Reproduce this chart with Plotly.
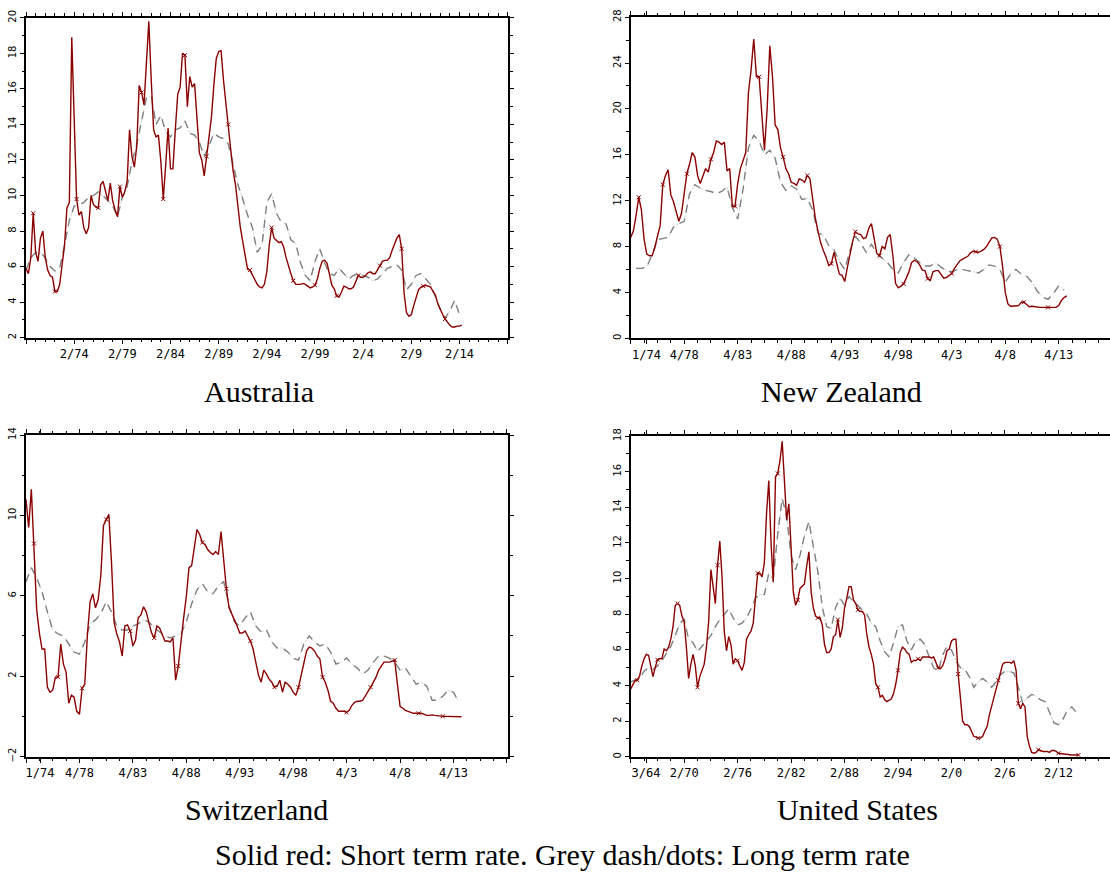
import numpy as np
import plotly.graph_objects as go

# ---------------- DATA ----------------
# Australia (quarterly short rate, semiannual long rate), time in decimal years
au_short_start = 1969.083
au_short = [5.9, 5.6, 6.5, 9.0, 6.8, 6.3, 7.6, 8.0, 6.5, 5.8,
            5.5, 5.4, 4.6, 4.6, 5.0, 6.0, 7.2, 9.3, 9.6, 18.9,
            13.9, 9.8, 8.9, 9.1, 8.2, 7.85, 8.2, 10.0, 9.5, 9.35,
            9.3, 10.6, 10.8, 10.2, 9.7, 10.7, 9.7, 9.2, 8.8, 10.5,
            9.9, 10.2, 10.8, 13.7, 12.2, 11.6, 12.8, 16.2, 15.8, 15.1,
            17.3, 19.8, 16.5, 13.7, 13.3, 13.4, 11.9, 9.8, 11.7, 13.8,
            11.5, 11.5, 13.7, 15.7, 16.1, 18.0, 17.9, 15.0, 16.7, 16.1,
            16.3, 14.6, 12.4, 12.0, 11.1, 12.2, 13.2, 14.4, 16.2, 17.7,
            18.1, 18.15, 16.5, 15.1, 14.0, 12.6, 11.4, 10.6, 9.4, 8.2,
            7.4, 6.5, 5.85, 5.8, 5.5, 5.2, 5.0, 4.85, 4.8, 5.0,
            5.7, 7.2, 8.2, 7.6, 7.45, 7.35, 7.4, 7.1, 6.5, 6.0,
            5.6, 5.2, 5.0, 5.0, 5.0, 5.05, 5.0, 4.9, 4.8, 4.85,
            4.95, 5.3, 5.9, 6.3, 6.35, 6.2, 5.6, 4.95, 4.75, 4.35,
            4.3, 4.55, 4.9, 4.85, 4.75, 4.75, 4.85, 5.2, 5.5, 5.4,
            5.4, 5.5, 5.65, 5.7, 5.6, 5.6, 5.8, 6.05, 6.3, 6.35,
            6.35, 6.5, 6.9, 7.3, 7.6, 7.8, 7.0, 4.5, 3.4, 3.2,
            3.3, 3.8, 4.25, 4.7, 4.85, 4.9, 4.95, 4.9, 4.85, 4.6,
            4.4, 3.9, 3.55, 3.3, 3.05, 2.85, 2.7, 2.6, 2.6, 2.65,
            2.65, 2.7]
au_long_start = 1969.083
au_long = [5.8, 6.5, 6.8, 6.8, 6.5, 6.0, 5.75, 5.9, 7.2, 8.6,
           9.4, 9.5, 9.6, 9.9, 10.0, 10.2, 10.0, 9.7, 9.4, 8.8,
           9.9, 10.5, 11.9, 12.9, 14.2, 15.5, 15.6, 14.0, 14.5, 13.6,
           13.3, 13.7, 13.8, 14.2, 13.5, 13.4, 13.0, 12.2, 12.8, 13.5,
           13.3, 13.2, 12.9, 11.8, 10.6, 9.8, 8.9, 8.2, 6.8, 7.2,
           9.6, 10.1, 9.0, 8.5, 8.4, 7.5, 7.3, 6.2, 5.5, 5.2,
           6.3, 7.0, 6.2, 5.6, 5.5, 5.9, 5.6, 5.3, 5.5, 5.6,
           5.5, 5.4, 5.2, 5.3, 5.6, 5.9, 6.0, 6.1, 5.8, 4.7,
           5.0, 5.5, 5.6, 5.3, 5.0, 4.3, 3.6, 3.1, 3.5, 4.1,
           3.3]
au_tickvals = [1969.083, 1974.083, 1979.083, 1984.083, 1989.083, 1994.083,
               1999.083, 2004.083, 2009.083, 2014.083, 2019.083]
au_ticktext = ["", "2/74", "2/79", "2/84", "2/89", "2/94", "2/99", "2/4", "2/9", "2/14", ""]

# New Zealand
nz_short_start = 1973.25
nz_short = [8.8, 9.35, 10.7, 12.3, 11.2, 8.65, 7.35, 7.2, 7.2, 7.9,
            8.9, 9.8, 13.4, 14.2, 14.7, 12.5, 11.9, 11.1, 10.2, 10.9,
            12.8, 14.35, 15.2, 16.2, 15.8, 14.2, 13.5, 14.1, 14.8, 14.5,
            15.6, 16.2, 17.2, 17.1, 16.9, 17.1, 14.6, 14.8, 11.5, 11.5,
            13.5, 14.8, 15.6, 16.2, 21.4, 23.4, 26.1, 22.8, 22.8, 19.4,
            16.4, 20.0, 25.5, 22.8, 18.6, 18.2, 16.6, 15.8, 14.8, 14.35,
            13.6, 13.5, 13.35, 13.9, 13.8, 13.6, 14.2, 13.9, 12.2, 10.5,
            9.35, 8.35, 7.65, 7.1, 6.35, 6.5, 7.5, 6.6, 5.6, 5.5,
            4.95, 6.2, 7.4, 8.5, 9.3, 9.1, 9.05, 8.7, 8.8, 9.6,
            10.0, 8.5, 7.4, 7.2, 8.0, 7.8, 8.8, 9.05, 7.2, 4.8,
            4.4, 4.55, 4.75, 5.25, 5.8, 6.6, 6.8, 6.7, 6.4, 5.95,
            5.9, 5.2, 5.05, 5.8, 5.9, 5.9, 5.6, 5.25, 5.3, 5.45,
            5.65, 6.1, 6.45, 6.75, 6.9, 7.0, 7.15, 7.45, 7.6, 7.55,
            7.5, 7.6, 7.75, 8.0, 8.4, 8.75, 8.8, 8.65, 8.0, 6.3,
            4.0, 3.0, 2.8, 2.8, 2.8, 2.85, 3.15, 3.15, 2.95, 2.75,
            2.8, 2.75, 2.7, 2.7, 2.7, 2.7, 2.7, 2.7, 2.7, 2.7,
            2.85, 3.3, 3.55, 3.7]
nz_long_start = 1973.75
nz_long = [6.1, 6.1, 6.2, 7.3, 8.6, 8.7, 8.8, 9.7, 10.0, 10.2,
           12.6, 13.4, 13.1, 12.9, 12.8, 12.6, 12.8, 13.2, 11.4, 10.4,
           13.0, 16.6, 17.7, 17.2, 16.0, 16.4, 15.7, 13.6, 12.9, 13.3,
           13.0, 12.1, 12.2, 11.2, 9.2, 9.0, 8.1, 7.7, 6.7, 6.0,
           7.7, 8.9, 8.3, 7.5, 8.2, 7.4, 7.0, 6.6, 6.0, 5.7,
           6.6, 7.3, 7.0, 6.6, 6.3, 6.3, 6.6, 6.2, 5.9, 5.8,
           6.0, 6.0, 5.9, 5.8, 5.7, 6.0, 6.4, 6.3, 6.0, 4.9,
           5.6, 6.0, 5.6, 5.4, 4.9, 4.1, 3.6, 3.4, 3.9, 4.6,
           4.2]
nz_tickvals = [1973.25, 1974.73, 1978.25, 1983.25, 1988.25, 1993.25,
               1998.25, 2003.25, 2008.25, 2013.25]
nz_ticktext = ["", "1/74", "4/78", "4/83", "4/88", "4/93", "4/98", "4/3", "4/8", "4/13"]

# Switzerland
ch_short_start = 1973.25
ch_short = [10.8, 9.4, 11.3, 8.6, 5.3, 4.15, 3.35, 3.35, 1.45, 1.2,
            1.3, 1.95, 1.95, 3.6, 2.6, 2.2, 0.65, 1.05, 0.95, 0.25,
            0.1, 1.4, 1.6, 4.1, 5.7, 6.1, 5.4, 5.8, 7.0, 9.5,
            9.8, 10.05, 7.65, 4.65, 4.1, 3.7, 3.0, 4.5, 4.55, 4.25,
            3.5, 3.8, 4.9, 5.05, 5.45, 5.2, 4.65, 4.15, 3.9, 4.5,
            4.4, 4.1, 3.75, 3.75, 3.7, 3.9, 1.8, 2.5, 3.8, 4.9,
            5.95, 7.4, 7.5, 8.3, 9.3, 9.05, 8.65, 8.55, 8.3, 8.15,
            8.05, 8.2, 8.05, 9.2, 7.8, 6.35, 5.4, 5.05, 4.8, 4.5,
            4.15, 4.15, 4.25, 4.0, 3.75, 3.35, 2.6, 2.05, 1.7, 2.3,
            2.1, 1.85, 1.7, 1.45, 1.5, 1.8, 1.2, 1.7, 1.6, 1.45,
            1.2, 1.05, 1.45, 2.05, 2.6, 3.25, 3.45, 3.4, 3.25, 3.0,
            2.85, 1.95, 1.7, 1.3, 0.75, 0.65, 0.4, 0.25, 0.25, 0.25,
            0.2, 0.3, 0.55, 0.7, 0.75, 0.75, 0.8, 1.0, 1.2, 1.45,
            1.7, 1.95, 2.3, 2.5, 2.7, 2.7, 2.7, 2.75, 2.8, 1.6,
            0.5, 0.4, 0.3, 0.25, 0.2, 0.15, 0.15, 0.15, 0.15, 0.1,
            0.05, 0.05, 0.07, 0.05, 0.03, 0.0, 0.0, 0.0, 0.0, 0.0,
            0.0, 0.0, 0.0, -0.02]
ch_long_start = 1973.25
ch_long = [6.7, 7.4, 6.9, 6.2, 5.2, 4.3, 4.1, 4.0, 3.6, 3.2,
           3.1, 3.7, 4.6, 4.8, 5.1, 5.7, 5.2, 4.5, 4.3, 4.3,
           4.5, 4.6, 4.8, 4.7, 4.4, 4.2, 4.0, 3.9, 4.0, 4.1,
           4.7, 5.6, 6.3, 6.6, 6.2, 6.1, 6.5, 6.7, 5.5, 4.7,
           4.5, 4.9, 5.2, 4.5, 4.2, 4.3, 3.7, 3.4, 3.4, 3.2,
           2.9, 2.8, 3.6, 4.0, 3.7, 3.5, 3.6, 3.2, 2.6, 2.7,
           2.9, 2.6, 2.4, 2.1, 2.3, 2.7, 3.0, 3.0, 2.9, 2.7,
           2.3, 2.4, 2.0, 1.6, 1.7, 1.5, 0.8, 0.8, 1.0, 1.3,
           1.2, 0.7]
ch_tickvals = [1973.25, 1974.56, 1978.25, 1983.25, 1988.25, 1993.25,
               1998.25, 2003.25, 2008.25, 2013.25, 2018.25]
ch_ticktext = ["", "1/74", "4/78", "4/83", "4/88", "4/93", "4/98", "4/3", "4/8", "4/13", ""]

# United States
us_short_start = 1964.08
us_short = [3.8, 4.1, 4.3, 4.3, 4.55, 5.1, 5.5, 5.75, 5.7, 5.1,
            4.5, 5.0, 5.45, 5.5, 5.5, 6.05, 5.95, 6.15, 6.6, 7.3,
            8.5, 8.6, 8.5, 7.9, 7.6, 6.15, 4.4, 5.2, 5.75, 5.1,
            3.9, 4.5, 4.85, 5.2, 6.15, 7.6, 10.5, 9.5, 8.6, 10.75,
            12.1, 10.1, 7.05, 5.95, 6.75, 6.3, 5.2, 5.5, 5.4, 5.1,
            4.85, 5.3, 6.6, 6.85, 7.05, 7.5, 8.8, 10.3, 10.3, 10.1,
            10.9, 13.7, 15.5, 12.0, 9.8, 15.7, 15.9, 16.6, 17.7, 15.15,
            13.3, 14.2, 11.5, 9.25, 8.5, 8.8, 9.45, 9.55, 9.7, 10.7,
            11.5, 9.25, 8.35, 7.9, 7.8, 7.8, 7.4, 6.3, 5.85, 5.85,
            6.05, 6.75, 6.85, 7.7, 6.7, 7.25, 8.35, 8.9, 9.55, 9.55,
            8.8, 8.6, 8.25, 8.15, 8.15, 7.95, 6.85, 6.15, 5.75, 5.2,
            4.1, 3.9, 3.35, 3.45, 3.2, 3.1, 3.2, 3.25, 3.55, 4.1,
            4.85, 5.85, 6.15, 6.05, 5.85, 5.75, 5.3, 5.4, 5.4, 5.5,
            5.4, 5.6, 5.6, 5.6, 5.6, 5.55, 5.6, 5.3, 5.0, 4.95,
            5.1, 5.45, 5.95, 6.05, 6.5, 6.6, 6.6, 4.65, 3.45, 2.0,
            1.8, 1.8, 1.7, 1.45, 1.15, 1.1, 1.05, 1.05, 1.15, 1.45,
            1.7, 2.35, 2.8, 3.35, 3.75, 4.3, 4.75, 5.2, 5.3, 5.3,
            5.3, 5.25, 5.4, 4.85, 3.0, 2.7, 3.0, 2.8, 1.15, 0.6,
            0.25, 0.2, 0.25, 0.4, 0.35, 0.3, 0.3, 0.3, 0.25, 0.35,
            0.35, 0.3, 0.2, 0.18, 0.15, 0.15, 0.1, 0.1, 0.1, 0.1,
            0.1, 0.1]
us_long_start = 1964.08
us_long = [4.2, 4.3, 4.4, 4.8, 5.0, 4.9, 5.1, 5.4, 5.8, 6.2,
           6.8, 7.5, 7.7, 6.6, 6.4, 5.9, 6.2, 6.5, 6.8, 7.3,
           7.7, 8.0, 8.3, 7.8, 7.4, 7.5, 7.8, 8.3, 8.9, 9.1,
           9.1, 10.3, 10.0, 12.5, 14.5, 13.5, 11.3, 10.5, 11.3, 12.4,
           13.2, 11.8, 10.4, 8.4, 7.3, 7.2, 8.4, 8.9, 8.5, 9.0,
           8.7, 8.5, 8.2, 8.0, 7.5, 7.3, 6.5, 5.9, 5.6, 6.4,
           7.3, 7.4, 6.5, 6.0, 6.5, 6.6, 6.3, 5.6, 5.0, 4.8,
           5.7, 6.2, 6.0, 5.4, 5.0, 4.9, 4.5, 3.9, 4.2, 4.4,
           4.2, 3.9, 4.2, 4.6, 4.8, 4.8, 4.7, 3.9, 3.0, 3.3,
           3.5, 3.4, 3.2, 3.1, 2.5, 1.9, 1.8, 2.1, 2.6, 2.8,
           2.5]
us_tickvals = [1964.08, 1965.8, 1970.08, 1976.08, 1982.08, 1988.08,
               1994.08, 2000.08, 2006.08, 2012.08]
us_ticktext = ["", "3/64", "2/70", "2/76", "2/82", "2/88", "2/94", "2/0", "2/6", "2/12"]

titles = ["Australia", "New Zealand", "Switzerland", "United States"]
caption = "Solid red: Short term rate. Grey dash/dots: Long term rate"

# ---------------- LAYOUT HELPERS ----------------
W, H = 1110, 874
RED = "#8b0000"
GREY = "#808080"
SERIF = "Liberation Serif"

panels = [
    dict(short=au_short, s0=au_short_start, long=au_long, l0=au_long_start,
         xdom=(26, 508), ydom=(10, 335), xr=(1969.083, 2019.12), yr=(2, 20),
         tv=au_tickvals, tt=au_ticktext, mtick0=1969.083, mdt=1.0,
         ydt=2, ytick0=2, ymdt=1, right=True, title_xy=(259, 390)),
    dict(short=nz_short, s0=nz_short_start, long=nz_long, l0=nz_long_start,
         xdom=(630.7, 1110), ydom=(9.3, 335.7), xr=(1973.25, 2018.04), yr=(0, 28),
         tv=nz_tickvals, tt=nz_ticktext, mtick0=1973.25, mdt=1.25,
         ydt=4, ytick0=0, ymdt=2, right=False, title_xy=(841, 390)),
    dict(short=ch_short, s0=ch_short_start, long=ch_long, l0=ch_long_start,
         xdom=(26, 508), ydom=(434, 760.7), xr=(1973.25, 2018.35), yr=(-2, 14),
         tv=ch_tickvals, tt=ch_ticktext, mtick0=1973.25, mdt=1.25,
         ydt=4, ytick0=-2, ymdt=2, right=True, title_xy=(256, 815)),
    dict(short=us_short, s0=us_short_start, long=us_long, l0=us_long_start,
         xdom=(630.7, 1110), ydom=(435, 761), xr=(1964.08, 2017.87), yr=(0, 18),
         tv=us_tickvals, tt=us_ticktext, mtick0=1964.08, mdt=1.5,
         ydt=2, ytick0=0, ymdt=1, right=False, title_xy=(857, 815)),
]

fig = go.Figure()
layout = dict(width=W, height=H, margin=dict(l=0, r=0, t=0, b=0),
              paper_bgcolor="white", plot_bgcolor="white", showlegend=False)
annotations = []

for k, p in enumerate(panels):
    n = k + 1
    xa = "x" if n == 1 else f"x{n}"
    ya = "y" if n == 1 else f"y{n}"
    xs = p["s0"] + 0.25 * np.arange(len(p["short"]))
    xl = p["l0"] + 0.5 * np.arange(len(p["long"]))
    ys = np.array(p["short"])
    yl = np.array(p["long"])
    # faint dots beneath the dashes
    fig.add_trace(go.Scatter(x=xl, y=yl, mode="lines", xaxis=xa, yaxis=ya,
                             line=dict(color="#d4d4d4", width=1, dash="dot"),
                             hoverinfo="skip"))
    fig.add_trace(go.Scatter(x=xl, y=yl, mode="lines", xaxis=xa, yaxis=ya,
                             line=dict(color=GREY, width=1.4, dash="8px,6px"),
                             hoverinfo="skip"))
    fig.add_trace(go.Scatter(x=xs, y=ys, mode="lines", xaxis=xa, yaxis=ya,
                             line=dict(color=RED, width=1.4), hoverinfo="skip"))
    fig.add_trace(go.Scatter(x=xs[3::9], y=ys[3::9], mode="markers", xaxis=xa, yaxis=ya,
                             marker=dict(symbol="x-thin", size=4,
                                         line=dict(color=RED, width=1)),
                             hoverinfo="skip"))

    xkey = "xaxis" if n == 1 else f"xaxis{n}"
    ykey = "yaxis" if n == 1 else f"yaxis{n}"
    layout[xkey] = dict(
        domain=[p["xdom"][0] / W, p["xdom"][1] / W], anchor=ya,
        range=list(p["xr"]), tickmode="array", tickvals=p["tv"], ticktext=p["tt"],
        showline=True, linecolor="black", linewidth=2, mirror="allticks",
        ticks="outside", ticklen=4, tickwidth=1, tickcolor="black",
        showgrid=False, zeroline=False,
        tickfont=dict(family="DejaVu Sans Mono", size=12, color="black"),
        minor=dict(ticks="outside", ticklen=2.5, tickwidth=1, tickcolor="black",
                   tick0=p["mtick0"], dtick=p["mdt"], showgrid=False),
    )
    layout[ykey] = dict(
        domain=[1 - p["ydom"][1] / H, 1 - p["ydom"][0] / H], anchor=xa,
        range=list(p["yr"]), tickmode="linear", tick0=p["ytick0"], dtick=p["ydt"],
        showline=True, linecolor="black", linewidth=2,
        mirror="allticks" if p["right"] else False,
        ticks="outside", ticklen=4, tickwidth=1, tickcolor="black",
        showgrid=False, zeroline=False, tickangle=-90,
        tickfont=dict(family="DejaVu Sans", size=10, color="black"),
        minor=dict(ticks="outside", ticklen=2.5, tickwidth=1, tickcolor="black",
                   dtick=p["ymdt"], showgrid=False),
    )
    annotations.append(dict(text=titles[k], xref="paper", yref="paper",
                            x=p["title_xy"][0] / W, y=1 - p["title_xy"][1] / H,
                            showarrow=False, xanchor="center", yanchor="middle",
                            font=dict(family=SERIF, size=30, color="black")))

annotations.append(dict(text=caption, xref="paper", yref="paper",
                        x=562 / W, y=1 - 860 / H, showarrow=False,
                        xanchor="center", yanchor="middle",
                        font=dict(family=SERIF, size=30, color="black")))
layout["annotations"] = annotations
fig.update_layout(**layout)
fig.write_html("out.html")
